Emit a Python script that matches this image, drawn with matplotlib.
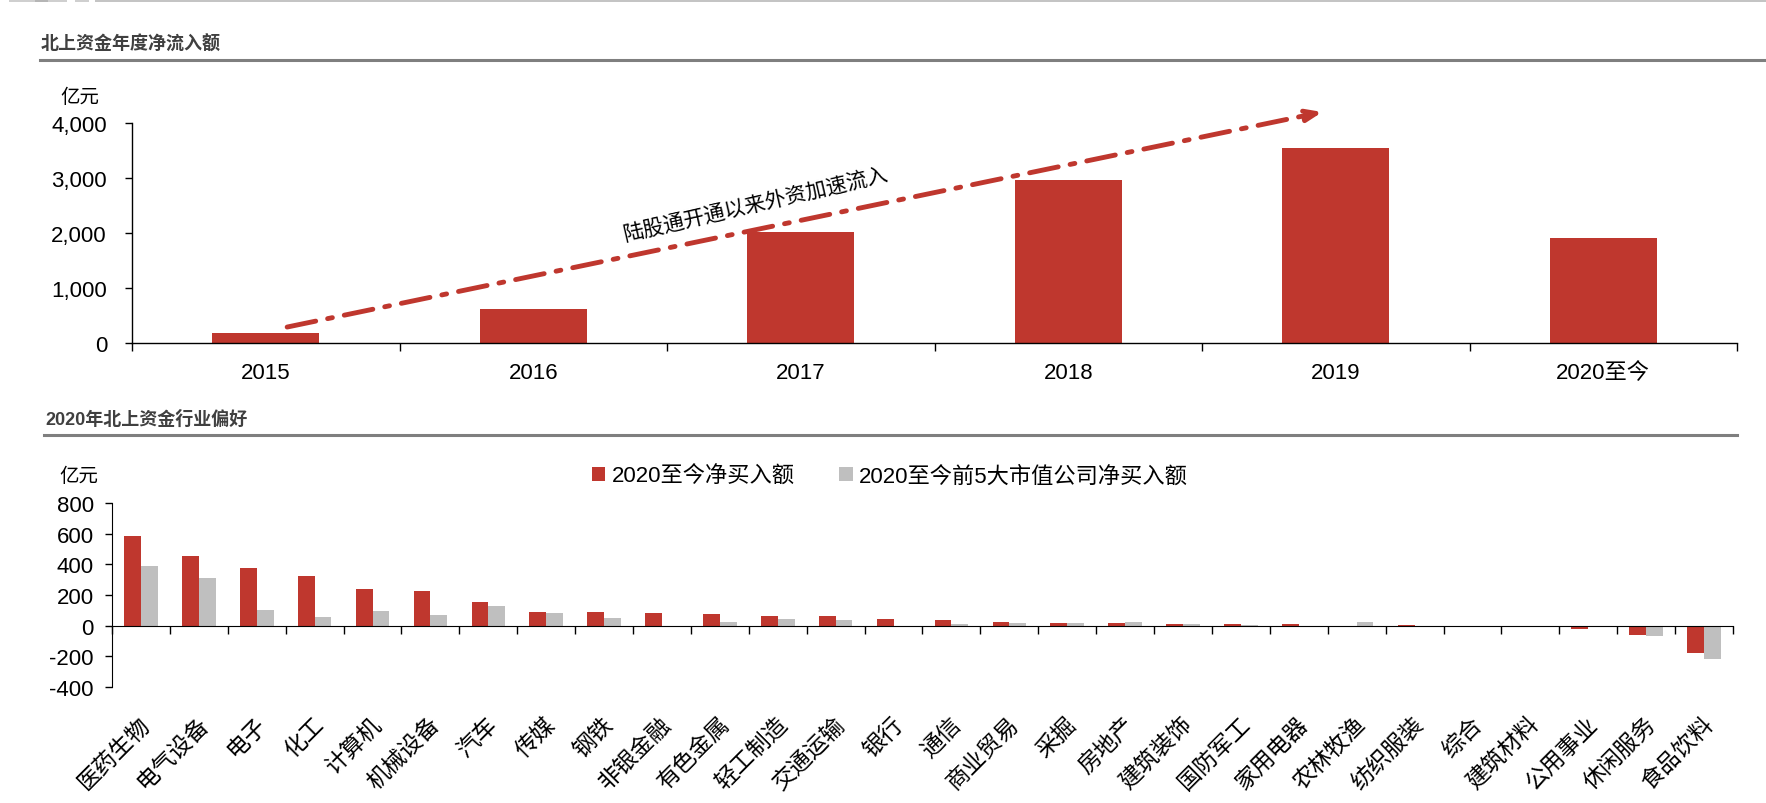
import numpy as np
import matplotlib
matplotlib.use('Agg')
import matplotlib.pyplot as plt
import matplotlib.transforms as mtransforms
from matplotlib.lines import Line2D
from matplotlib.patches import Rectangle
from matplotlib.ticker import FuncFormatter, FixedLocator

plt.rcParams['font.family'] = ['Liberation Sans', 'Noto Sans CJK SC', 'DejaVu Sans']
plt.rcParams['axes.unicode_minus'] = False

RED = '#BF372E'
GRAY = '#BFBFBF'

# top chart data (亿元)
years = ['2015', '2016', '2017', '2018', '2019', '2020至今']
net_inflow = [186, 619, 2021, 2969, 3546, 1918]

# bottom chart data (亿元)
industries = ['医药生物', '电气设备', '电子', '化工', '计算机', '机械设备', '汽车', '传媒',
              '钢铁', '非银金融', '有色金属', '轻工制造', '交通运输', '银行', '通信', '商业贸易',
              '采掘', '房地产', '建筑装饰', '国防军工', '家用电器', '农林牧渔', '纺织服装', '综合',
              '建筑材料', '公用事业', '休闲服务', '食品饮料']
net_buy = [588, 453, 375, 325, 240, 225, 155, 89, 87, 85, 74, 65, 63, 44, 35, 24,
           20, 17, 11, 11, 9, 1, 2, 0, -3, -20, -61, -177]
top5_buy = [392, 312, 105, 59, 96, 70, 129, 83, 48, 0, 26, 41, 35, 0, 8, 17,
            15, 26, 9, 7, 1, 26, 1, 0, -1, -3, -65, -220]

W, H = 1766, 804
fig = plt.figure(figsize=(W / 100, H / 100), dpi=100)


def fx(px):
    return px / W


def fy(py):
    return 1 - py / H


# decorative strips at very top
for x0, x1, c in [(9, 67, '#cfcfcf'), (35, 48, '#b5b5b5'), (75, 89, '#cfcfcf'), (95, 1766, '#c4c4c4')]:
    fig.add_artist(Rectangle((fx(x0), fy(3)), fx(x1 - x0), 3 / H, transform=fig.transFigure,
                             color=c, lw=0))

# section titles
fig.text(fx(41), fy(45), '北上资金年度净流入额', fontsize=13, fontweight='bold',
         color='#404040', va='center', ha='left')
fig.add_artist(Line2D([fx(40), 1.0], [fy(61), fy(61)], color='#7f7f7f', lw=2.2,
                      transform=fig.transFigure))
fig.text(fx(45), fy(420), '2020年北上资金行业偏好', fontsize=13, fontweight='bold',
         color='#404040', va='center', ha='left')
fig.add_artist(Line2D([fx(44), fx(1737)], [fy(436), fy(436)], color='#7f7f7f', lw=2.2,
                      transform=fig.transFigure))

# ---------- top chart ----------
ax1 = fig.add_axes([fx(132), fy(344), fx(1737 - 132), (344 - 124) / H])
x = np.arange(len(years))
ax1.bar(x, net_inflow, width=0.4, color=RED)
ax1.set_xlim(-0.5, len(years) - 0.5)
ax1.set_ylim(0, 4000)
ax1.set_yticks([0, 1000, 2000, 3000, 4000])
ax1.yaxis.set_major_formatter(FuncFormatter(lambda v, p: f'{int(v):,}'))
ax1.set_xticks(x)
ax1.set_xticklabels(years)
ax1.xaxis.set_minor_locator(FixedLocator(np.arange(len(years) + 1) - 0.5))
ax1.tick_params(axis='x', which='major', length=0, pad=14, labelsize=16)
ax1.tick_params(axis='x', which='minor', length=6, width=1, direction='out')
ax1.tick_params(axis='y', length=5, width=1, direction='out', labelsize=16, pad=13)
for s in ['top', 'right']:
    ax1.spines[s].set_visible(False)
for s in ['left', 'bottom']:
    ax1.spines[s].set_linewidth(1)

ax1.annotate('', xy=(3.95, 4200), xytext=(0.08, 290),
             arrowprops=dict(arrowstyle='-|>,head_length=0.9,head_width=0.35', color=RED, lw=3.5,
                             linestyle=(0, (6, 2.5, 1, 2.5)), shrinkA=0, shrinkB=0),
             annotation_clip=False)
ax1.text(1.83, 2530, '陆股通开通以来外资加速流入', rotation=13, fontsize=15,
         ha='center', va='center', rotation_mode='anchor')
fig.text(fx(80), fy(98), '亿元', fontsize=14, ha='center', va='center')

# ---------- bottom chart ----------
ax2 = fig.add_axes([fx(112), fy(688), fx(1733 - 112), (688 - 504) / H])
xi = np.arange(len(industries))
bw = 0.29
b1 = ax2.bar(xi - bw / 2, net_buy, width=bw, color=RED, label='2020至今净买入额')
b2 = ax2.bar(xi + bw / 2, top5_buy, width=bw, color=GRAY, label='2020至今前5大市值公司净买入额')
ax2.set_xlim(-0.5, len(industries) - 0.5)
ax2.set_ylim(-400, 800)
ax2.set_yticks(np.arange(-400, 801, 200))
ax2.spines['bottom'].set_position(('data', 0))
for s in ['top', 'right']:
    ax2.spines[s].set_visible(False)
ax2.set_xticks(np.arange(len(industries) + 1) - 0.5)
ax2.set_xticklabels([])
ax2.tick_params(axis='x', length=6, width=1, direction='out')
ax2.tick_params(axis='y', length=5, width=1, direction='out', labelsize=16, pad=8)

trans = mtransforms.blended_transform_factory(ax2.transData, ax2.transAxes)
for i, name in enumerate(industries):
    ax2.annotate(name, xy=(i, 0), xycoords=trans, xytext=(4, -24), textcoords='offset points',
                 rotation=45, rotation_mode='anchor', ha='right', va='center', fontsize=16.5)

fig.text(fx(79), fy(477), '亿元', fontsize=14, ha='center', va='center')
fig.legend(handles=[b1, b2], loc='center', bbox_to_anchor=(fx(890), fy(477)), ncol=2,
           frameon=False, fontsize=16, handlelength=0.6, handleheight=0.6, handletextpad=0.3,
           columnspacing=2.0)

fig.savefig('out.png', dpi=100)
